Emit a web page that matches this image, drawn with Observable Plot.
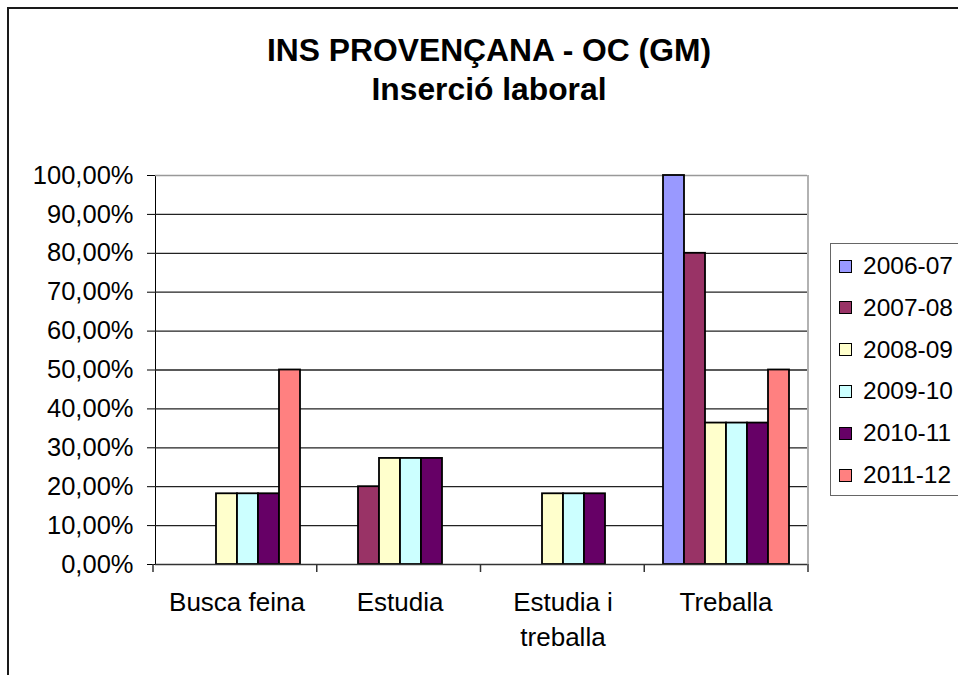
<!DOCTYPE html>
<html><head><meta charset="utf-8">
<script src="https://cdn.jsdelivr.net/npm/d3@7"></script>
<script src="https://cdn.jsdelivr.net/npm/@observablehq/plot@0.6"></script>
<style>
body{margin:0;background:#fff;}
#wrap{position:relative;width:958px;height:675px;overflow:hidden;background:#fff;font-family:"Liberation Sans",Arial,sans-serif;color:#000;}
#border{position:absolute;left:7px;top:7px;width:1000px;height:700px;border-left:2px solid #1a1a1a;border-top:2px solid #1a1a1a;}
.title{position:absolute;left:20px;width:938px;text-align:center;font-weight:bold;font-size:31.8px;line-height:39px;white-space:nowrap;}
#chart{position:absolute;left:0;top:0;}
#legend{position:absolute;left:830px;top:243px;width:200px;height:253px;border:1px solid #666;box-sizing:border-box;background:#fff;}
.item{position:absolute;left:0;height:30px;width:190px;font-size:24.5px;line-height:30px;white-space:nowrap;}
.sw{position:absolute;left:8px;top:8.5px;width:11px;height:11px;border:1px solid #000;}
.lt{position:absolute;left:32px;top:0;}
</style>
</head><body>
<div id="wrap">
  <div id="border"></div>
  <div id="chart"></div>
  <div class="title" id="t1" style="top:30.5px"></div>
  <div class="title" id="t2" style="top:69.5px"></div>
  <div id="legend"></div>
</div>
<script>
const titleLines = ["INS PROVENÇANA - OC (GM)", "Inserció laboral"];
const categories = ["Busca feina", "Estudia", "Estudia i treballa", "Treballa"];
const categoryLabels = ["Busca feina", "Estudia", "Estudia i\ntreballa", "Treballa"];
const years = ["2006-07", "2007-08", "2008-09", "2009-10", "2010-11", "2011-12"];
const colors = ["#9999FF", "#993366", "#FFFFCC", "#CCFFFF", "#660066", "#FF8080"];
const v2006_07 = [null, null, null, 1.0];
const v2007_08 = [null, 0.20, null, 0.80];
const v2008_09 = [0.1818, 0.2727, 0.1818, 0.3636];
const v2009_10 = [0.1818, 0.2727, 0.1818, 0.3636];
const v2010_11 = [0.1818, 0.2727, 0.1818, 0.3636];
const v2011_12 = [0.50, null, null, 0.50];
const yTicks = [0, 0.1, 0.2, 0.3, 0.4, 0.5, 0.6, 0.7, 0.8, 0.9, 1.0];

const series = [v2006_07, v2007_08, v2008_09, v2009_10, v2010_11, v2011_12];
const data = [];
years.forEach((yr, i) => series[i].forEach((v, j) => {
  if (v != null) data.push({cat: categories[j], year: yr, value: v});
}));
const labels = categories.map((c, i) => ({cat: c, label: categoryLabels[i]}));

document.getElementById("t1").textContent = titleLines[0];
document.getElementById("t2").textContent = titleLines[1];

const fmt = d => (d * 100).toFixed(2).replace(".", ",") + "%";

const plot = Plot.plot({
  width: 958, height: 675,
  marginTop: 175, marginBottom: 111, marginLeft: 153, marginRight: 150,
  style: {background: "transparent", fontFamily: "Liberation Sans, Arial, sans-serif", fontSize: "25.5px", color: "#000", overflow: "visible"},
  fx: {domain: categories, padding: 0, axis: null, label: null},
  x: {domain: years, paddingInner: 0, paddingOuter: 0.716, axis: null},
  y: {domain: [0, 1], ticks: yTicks, tickFormat: fmt, tickSize: 8, tickPadding: 14, label: null, line: true, axis: "left"},
  color: {domain: years, range: colors},
  marks: [
    Plot.ruleY(yTicks.filter(t => t > 0 && t < 1), {stroke: "#222", strokeWidth: 1.3}),
    Plot.ruleY([1], {stroke: "#999", strokeWidth: 1.5}),
    Plot.barY(data, {fx: "cat", x: "year", y: "value", fill: "year", stroke: "#000", strokeWidth: 1.8}),
    Plot.ruleY([0], {stroke: "#333", strokeWidth: 1.5}),
    Plot.text(labels, {fx: "cat", text: "label", frameAnchor: "bottom", lineAnchor: "top", dy: 21, lineHeight: 1.37, fontSize: 26, fill: "#000"})
  ]
});

// category boundary ticks and right plot border, from the library's scales
const fxs = plot.scale("fx");
const ys = plot.scale("y");
const band = d3.scaleBand().domain(fxs.domain).range(fxs.range).padding(0);
const lin = d3.scaleLinear().domain(ys.domain).range(ys.range);
const y0 = lin(0), y1 = lin(1);
const svg = d3.select(plot);
const g = svg.append("g");
const bounds = categories.map(c => band(c)).concat([band.range()[1]]);
g.selectAll("line.tk").data(bounds).join("line")
  .attr("x1", d => d).attr("x2", d => d).attr("y1", y0).attr("y2", y0 + 8)
  .attr("stroke", "#333").attr("stroke-width", 1.5);
g.append("line").attr("x1", band.range()[1]).attr("x2", band.range()[1])
  .attr("y1", y1).attr("y2", y0).attr("stroke", "#999").attr("stroke-width", 1.5);

document.getElementById("chart").appendChild(plot);

// legend
const leg = document.getElementById("legend");
years.forEach((yr, i) => {
  const it = document.createElement("div");
  it.className = "item";
  it.style.top = (7 + 41.8 * i) + "px";
  const sw = document.createElement("div");
  sw.className = "sw";
  sw.style.background = colors[i];
  const lt = document.createElement("div");
  lt.className = "lt";
  lt.textContent = yr;
  it.appendChild(sw); it.appendChild(lt);
  leg.appendChild(it);
});
</script>
</body></html>
